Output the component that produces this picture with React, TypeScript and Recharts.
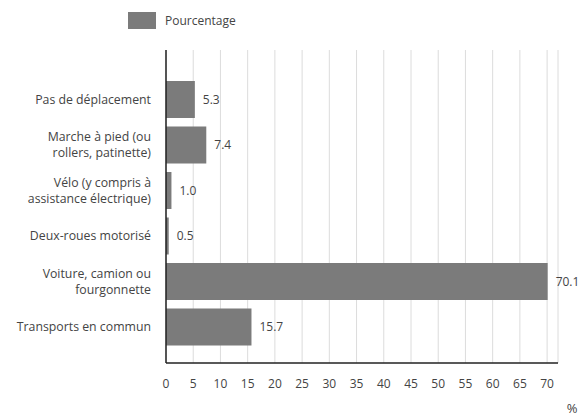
import React from 'react';
import { BarChart, Bar, XAxis, YAxis, CartesianGrid, Legend, LabelList } from 'recharts';

// catégories (lignes séparées par \n) et pourcentages
const categories = [
  'Pas de déplacement',
  'Marche à pied (ou\nrollers, patinette)',
  'Vélo (y compris à\nassistance électrique)',
  'Deux-roues motorisé',
  'Voiture, camion ou\nfourgonnette',
  'Transports en commun',
];
const pourcentages = [5.3, 7.4, 1.0, 0.5, 70.1, 15.7];
const xTicks = [0, 5, 10, 15, 20, 25, 30, 35, 40, 45, 50, 55, 60, 65, 70];

const data = categories.map((name, i) => ({ name, value: pourcentages[i] }));

const FONT = '"Open Sans", "DejaVu Sans", sans-serif';
const BAR = '#7b7b7b';
const TEXT = '#444';

const CategoryTick = (props: any) => {
  const { x, y, payload } = props;
  const lines = String(payload.value).split('\n');
  const lh = 16;
  const start = -((lines.length - 1) * lh) / 2;
  return (
    <text x={x - 7} y={y} textAnchor="end" fontSize={12.3} fill={TEXT} fontFamily={FONT}>
      {lines.map((l, i) => (
        <tspan key={i} x={x - 7} dy={i === 0 ? start + 4 : lh}>
          {l}
        </tspan>
      ))}
    </text>
  );
};

const LegendBox = () => (
  <div style={{ display: 'flex', alignItems: 'center', fontFamily: FONT, fontSize: 12, color: TEXT }}>
    <span style={{ display: 'inline-block', width: 28, height: 17, background: BAR, marginRight: 9 }} />
    <span>Pourcentage</span>
  </div>
);

export default function App() {
  return (
    <div style={{ position: 'absolute', left: 0, top: 0, width: 582, height: 417, background: '#fff' }}>
      <BarChart
        width={582}
        height={417}
        data={data}
        layout="vertical"
        margin={{ top: 33, right: 24, bottom: 0, left: 0 }}
        barSize={37}
      >
        <CartesianGrid horizontal={false} stroke="#dcdcdc" />
        <XAxis
          type="number"
          domain={[0, 72]}
          ticks={xTicks}
          interval={0}
          tickLine={false}
          axisLine={{ stroke: '#222', strokeWidth: 1.5 }}
          tick={{ fontSize: 12, fill: TEXT, fontFamily: FONT }}
          tickMargin={10}
          height={54}
          label={({ viewBox }: any) => (
            <text
              x={viewBox.x + viewBox.width + 14}
              y={viewBox.y + 50}
              textAnchor="middle"
              fontSize={13}
              fill={TEXT}
              fontFamily={FONT}
            >
              %
            </text>
          )}
        />
        <YAxis
          type="category"
          dataKey="name"
          width={166}
          tickLine={false}
          axisLine={{ stroke: '#222', strokeWidth: 1.5 }}
          tick={<CategoryTick />}
          interval={0}
          padding={{ top: 27, bottom: 13 }}
        />
        <Legend
          verticalAlign="top"
          content={<LegendBox />}
          wrapperStyle={{ top: 12, left: 128, width: 'auto' }}
        />
        <Bar dataKey="value" name="Pourcentage" fill={BAR} isAnimationActive={false}>
          <LabelList
            dataKey="value"
            position="right"
            offset={8}
            formatter={(v: any) => Number(v).toFixed(1)}
            style={{ fontSize: 12, fill: TEXT, fontFamily: FONT }}
          />
        </Bar>
      </BarChart>
    </div>
  );
}
